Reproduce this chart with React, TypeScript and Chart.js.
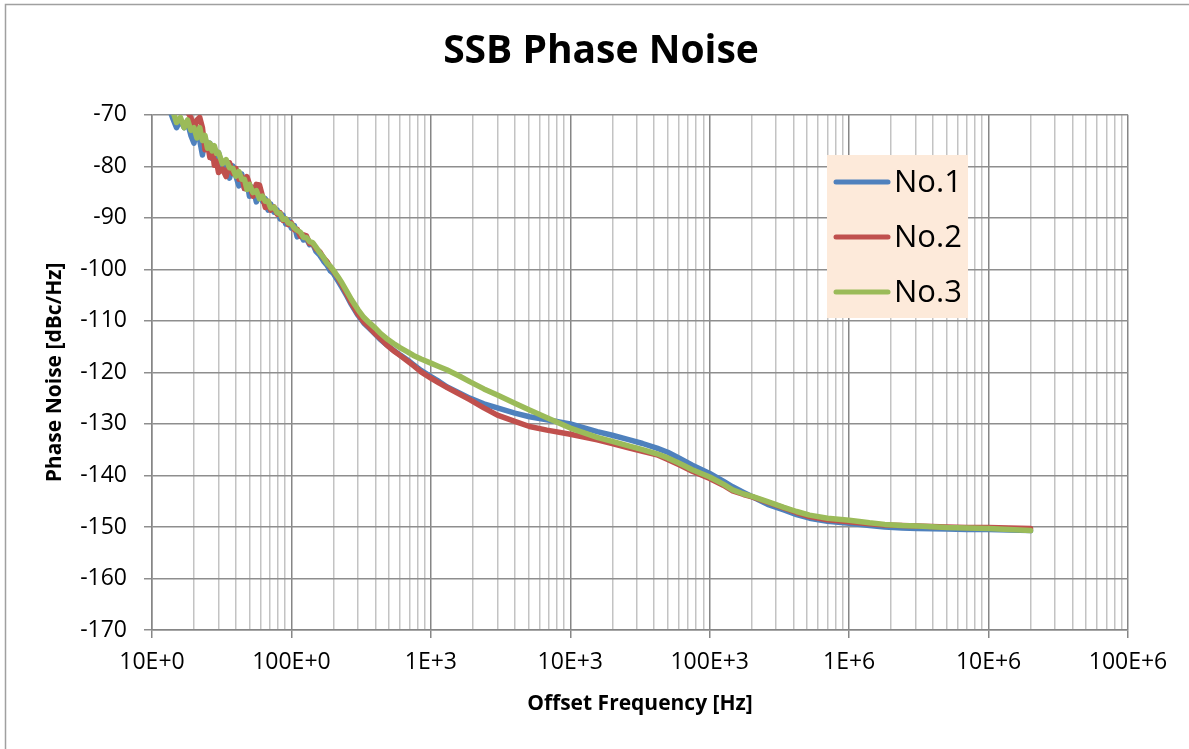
import React, { useEffect, useRef } from 'react';
import { Chart, registerables } from 'chart.js';

Chart.register(...registerables);

// ---------------- data ----------------
const chartTitle = 'SSB Phase Noise';
const xTitle = 'Offset Frequency [Hz]';
const yTitle = 'Phase Noise [dBc/Hz]';

const seriesLabels = ['No.1', 'No.2', 'No.3'];
const seriesColors = ['#4F81BD', '#C0504D', '#9BBB59'];

const xDecades = [10, 100, 1e3, 1e4, 1e5, 1e6, 1e7, 1e8];
const xDecadeLabels = ['10E+0', '100E+0', '1E+3', '10E+3', '100E+3', '1E+6', '10E+6', '100E+6'];

const yMin = -170;
const yMax = -70;
const yStep = 10;

const freqHz = [
  12, 13, 14, 15, 16, 17, 18, 19, 20, 21,
  22, 23, 24, 25, 26, 27, 28, 29, 30, 32,
  34, 36, 38, 40, 42, 44, 46, 48, 50, 53,
  56, 59, 62, 65, 68, 71, 75, 79, 83, 87,
  91, 95, 100, 105, 110, 116, 122, 128, 135, 142,
  150, 160, 170, 180, 190, 200, 215, 230, 250, 270,
  300, 330, 360, 400, 430, 480, 540, 600, 680, 750,
  850, 1000, 1150, 1300, 1600, 1900, 2400, 3000, 4000, 5100,
  6800, 10000, 15600, 20000, 26600, 33000, 41800, 50000, 61000, 75000,
  100000, 125000, 146000, 175000, 204000, 260000, 340000, 420000, 520000, 700000,
  1000000, 1400000, 1800000, 2400000, 3100000, 5000000, 7000000, 10000000, 14000000, 20000000,
];

const no1 = [
  -66, -68, -70.5, -72.5, -71, -72.5, -71.5, -74, -75.5, -72.5,
  -75, -77.8, -74.5, -76.5, -75.5, -78.5, -77, -79.5, -77.3, -80.5,
  -79.2, -82.3, -79.9, -81.9, -83.8, -81.5, -84.3, -83, -85.8, -84.1,
  -86.9, -84.8, -86.8, -86.3, -88.5, -87.3, -88.9, -88.5, -90.2, -89.5,
  -91.2, -90.5, -92, -91.5, -93.7, -93, -94.3, -94, -95.2, -95,
  -96.5, -97.3, -98.4, -99.2, -100.3, -100.8, -102.2, -103.5, -105.2, -106.9,
  -108.9, -110.4, -111.4, -112.6, -113.5, -114.6, -115.7, -116.6, -117.6, -118.5,
  -119.6, -120.8, -121.8, -122.8, -124, -125, -126.1, -126.9, -127.9, -128.6,
  -129.2, -130, -131.5, -132.2, -133.1, -133.8, -134.7, -135.5, -136.7, -138,
  -139.6, -141.1, -142.2, -143.3, -144.2, -145.6, -146.7, -147.6, -148.3, -148.9,
  -149.3, -149.7, -150, -150.2, -150.3, -150.4, -150.5, -150.5, -150.6, -150.7,
];

const no2 = [
  -64, -65, -66, -67, -68, -68.5, -69.5, -70.5, -72.8, -71,
  -70.5, -72.5, -76.8, -75.5, -78.3, -76.5, -79.8, -79, -81.2, -80.5,
  -82, -79.3, -81.4, -80.4, -82.5, -82, -84.3, -82, -83.5, -85.8,
  -83.5, -83.6, -85.8, -88, -86.8, -88.5, -87.9, -89.3, -89, -90.5,
  -90.2, -91.3, -91, -92.3, -92.2, -93.6, -93.3, -93.5, -95, -95,
  -96, -96.6, -97.8, -98.5, -99.6, -100.3, -101.6, -103, -104.9, -106.6,
  -108.7, -110.2, -111.2, -112.5, -113.3, -114.6, -115.8, -116.7, -117.8, -118.7,
  -119.9, -121.1, -122.1, -122.9, -124.2, -125.3, -126.9, -128.3, -129.5, -130.5,
  -131.2, -132, -133.1, -133.8, -134.7, -135.3, -136, -136.9, -138, -139.2,
  -140.6, -141.9, -143, -143.7, -144.2, -145.2, -146.3, -147.2, -148, -148.6,
  -149, -149.4, -149.6, -149.7, -149.8, -150, -150.1, -150.1, -150.2, -150.3,
];

const no3 = [
  -66.5, -67.5, -69, -71.5, -70.5, -72.5, -71, -73, -72.5, -74.5,
  -72.5, -75, -74, -76.5, -75.5, -77, -76, -77.5, -77.3, -79.5,
  -78.7, -80.3, -80.4, -81.9, -81, -82.5, -82.5, -84.5, -83.5, -85.1,
  -84.7, -86.3, -85.8, -86.8, -86.8, -88.1, -87.9, -89, -89.2, -90.3,
  -90.2, -91, -91.2, -92, -92.4, -92.8, -93.8, -93.8, -94.6, -94.8,
  -95.7, -96.8, -97.7, -98.8, -99.4, -100.2, -101.4, -102.6, -104.3, -105.9,
  -107.8, -109.3, -110.3, -111.4, -112.3, -113.4, -114.4, -115.2, -116, -116.7,
  -117.4, -118.2, -118.9, -119.5, -120.7, -121.8, -123.2, -124.4, -126, -127.3,
  -128.8, -130.8, -132.6, -133.4, -134.3, -135, -135.8, -136.6, -137.7, -138.9,
  -140.3, -141.7, -142.8, -143.6, -144.1, -145.1, -146.2, -147, -147.7, -148.3,
  -148.7, -149.2, -149.5, -149.7, -149.8, -150.1, -150.2, -150.3, -150.5, -150.7,
];

const seriesValues = [no1, no2, no3];

// ---------------- helpers ----------------
const xTickValues: number[] = [];
xDecades.forEach((d, i) => {
  if (i < xDecades.length - 1) {
    for (let k = 1; k <= 9; k++) xTickValues.push(d * k);
  } else {
    xTickValues.push(d);
  }
});
const isDecade = (v: any) => xDecades.includes(Number(v));

const FONT = "'Open Sans', sans-serif";

const legendPlugin = {
  id: 'boxLegend',
  afterDatasetsDraw(chart: any) {
    const { ctx } = chart;
    ctx.save();
    ctx.fillStyle = '#FDEADA';
    ctx.fillRect(827, 155, 141, 163);
    chart.data.datasets.forEach((ds: any, i: number) => {
      const y = 182 + i * 55;
      ctx.strokeStyle = ds.borderColor;
      ctx.lineWidth = 5;
      ctx.lineCap = 'round';
      ctx.beginPath();
      ctx.moveTo(836, y);
      ctx.lineTo(888, y);
      ctx.stroke();
      ctx.fillStyle = '#000';
      ctx.font = `31px ${FONT}`;
      ctx.textBaseline = 'middle';
      ctx.textAlign = 'left';
      ctx.fillText(ds.label, 894, y + 1);
    });
    ctx.restore();
  },
};

const framePlugin = {
  id: 'frame',
  beforeDraw(chart: any) {
    const { ctx, width, height } = chart;
    ctx.save();
    ctx.fillStyle = '#FFFFFF';
    ctx.fillRect(0, 0, width, height);
    ctx.restore();
  },
  afterDraw(chart: any) {
    const { ctx, width, height } = chart;
    ctx.save();
    ctx.strokeStyle = '#A0A0A0';
    ctx.lineWidth = 1.5;
    ctx.beginPath();
    ctx.moveTo(5.5, height);
    ctx.lineTo(5.5, 4.5);
    ctx.lineTo(width, 4.5);
    ctx.stroke();
    ctx.restore();
  },
};

export default function App() {
  const ref = useRef<HTMLCanvasElement>(null);

  useEffect(() => {
    const canvas = ref.current;
    if (!canvas) return;
    Chart.defaults.font.family = FONT;
    Chart.defaults.color = '#000';

    const datasets = seriesLabels.map((label, s) => ({
      label,
      data: freqHz.map((f, i) => ({ x: f, y: seriesValues[s][i] })),
      borderColor: seriesColors[s],
      backgroundColor: seriesColors[s],
      borderWidth: 5.5,
      pointRadius: 0,
      tension: 0,
      borderJoinStyle: 'round' as const,
      borderCapStyle: 'round' as const,
      fill: false,
      clip: 0,
      order: seriesLabels.length - s,
    }));

    const chart = new Chart(canvas, {
      type: 'line',
      data: { datasets },
      plugins: [framePlugin, legendPlugin],
      options: {
        animation: false,
        responsive: false,
        devicePixelRatio: 1,
        layout: { padding: { left: 13, right: 0, top: 4, bottom: 0 } },
        plugins: {
          legend: { display: false },
          tooltip: { enabled: false },
          title: {
            display: true,
            text: chartTitle,
            color: '#000',
            font: { size: 39, weight: 'bold', family: FONT },
            padding: { top: 24, bottom: 40 },
          },
        },
        scales: {
          x: {
            type: 'logarithmic',
            min: xDecades[0],
            max: xDecades[xDecades.length - 1],
            afterBuildTicks: (s: any) => {
              s.ticks = xTickValues.map((v) => ({ value: v }));
            },
            afterFit: (s: any) => {
              s.height = 119;
            },
            ticks: {
              autoSkip: false,
              maxRotation: 0,
              minRotation: 0,
              padding: 11,
              color: '#000',
              font: { size: 23 },
              callback: (v: any) => {
                const i = xDecades.indexOf(Number(v));
                return i >= 0 ? xDecadeLabels[i] : '';
              },
            },
            grid: {
              color: (c: any) => (isDecade(c.tick && c.tick.value) ? '#868686' : '#C3C3C3'),
              tickColor: (c: any) => (isDecade(c.tick && c.tick.value) ? '#868686' : 'rgba(0,0,0,0)'),
              lineWidth: 1.5,
              tickLength: 8,
            },
            border: { color: '#868686', width: 1.5 },
            title: {
              display: true,
              text: xTitle,
              color: '#000',
              font: { size: 21, weight: 'bold' },
              padding: { top: 0, bottom: 32 },
            },
          },
          y: {
            type: 'linear',
            position: 'left',
            min: yMin,
            max: yMax,
            afterFit: (s: any) => {
              s.width = 139;
            },
            ticks: {
              stepSize: yStep,
              padding: 17,
              color: '#000',
              font: { size: 23 },
            },
            grid: { color: '#8E8E8E', lineWidth: 1.5, tickLength: 8 },
            border: { color: '#868686', width: 1.5 },
            title: {
              display: true,
              text: yTitle,
              color: '#000',
              font: { size: 21, weight: 'bold' },
              padding: { top: 29, bottom: 0 },
            },
          },
          yR: {
            type: 'linear',
            position: 'right',
            display: true,
            grid: { display: false, drawTicks: false },
            ticks: { display: false },
            border: { display: false },
            afterFit: (s: any) => {
              s.width = 61;
            },
          },
        },
      } as any,
    });

    return () => chart.destroy();
  }, []);

  return (
    <div style={{ position: 'absolute', left: 0, top: 0, width: 1189, height: 749, background: '#fff' }}>
      <canvas ref={ref} width={1189} height={749} style={{ display: 'block', width: 1189, height: 749 }} />
    </div>
  );
}
